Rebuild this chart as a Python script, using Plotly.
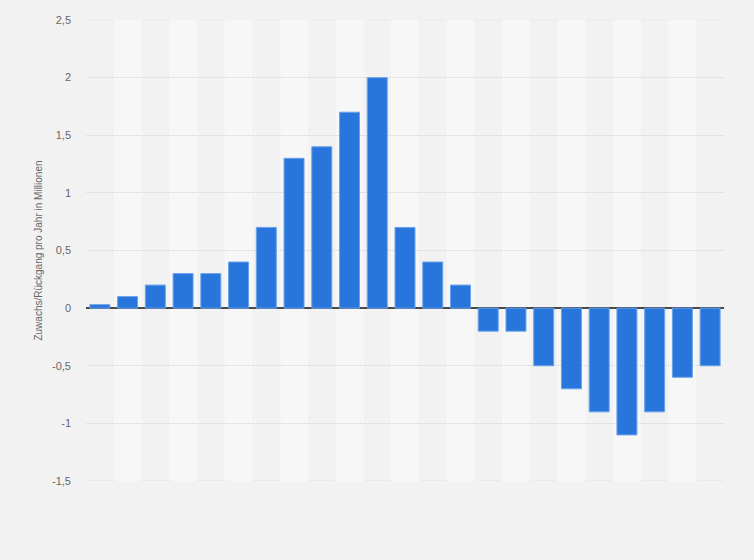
import plotly.graph_objects as go

categories = [str(i) for i in range(1, 24)]
values = [0.03, 0.1, 0.2, 0.3, 0.3, 0.4, 0.7, 1.3, 1.4, 1.7, 2.0, 0.7, 0.4, 0.2,
          -0.2, -0.2, -0.5, -0.7, -0.9, -1.1, -0.9, -0.6, -0.5]
y_ticks = [-1.5, -1, -0.5, 0, 0.5, 1, 1.5, 2, 2.5]
y_title = "Zuwachs/Rückgang pro Jahr in Millionen"

fig = go.Figure()
fig.add_trace(go.Bar(
    x=categories, y=values,
    marker=dict(color="#2875dc", line=dict(color="#6aa2ea", width=1)),
    hoverinfo="y",
))

shapes = []
for i, c in enumerate(categories):
    if i % 2 == 1:
        shapes.append(dict(type="rect", xref="x", yref="y", x0=i - 0.5, x1=i + 0.5,
                           y0=y_ticks[0], y1=y_ticks[-1], fillcolor="#f7f7f7",
                           line=dict(width=0), layer="below"))
for yv in (y_ticks[0], y_ticks[-1]):
    shapes.append(dict(type="line", xref="paper", yref="y", x0=0, x1=1, y0=yv, y1=yv,
                       line=dict(color="#d4d4d4", width=1, dash="1px,1px"), layer="below"))

fig.update_layout(
    width=754, height=560,
    margin=dict(l=86, r=30, t=20, b=79),
    paper_bgcolor="#f2f2f2", plot_bgcolor="#f2f2f2",
    separators=", ",
    bargap=0.28,
    showlegend=False,
    shapes=shapes,
    font=dict(family="Liberation Sans, Arial, sans-serif", color="#666666"),
)
fig.update_xaxes(showticklabels=False, showgrid=False, zeroline=False,
                 range=[-0.5, len(categories) - 0.5])
fig.update_yaxes(range=[y_ticks[0], y_ticks[-1]], tickvals=y_ticks,
                 ticktext=[f"{v:g}".replace(".", ",") for v in y_ticks],
                 showgrid=True, gridcolor="#d4d4d4", griddash="1px,1px", gridwidth=1,
                 zeroline=True, zerolinecolor="#4a4a4a", zerolinewidth=2,
                 ticklabelstandoff=14, tickfont=dict(size=11, color="#666666"),
                 title=dict(text=y_title, font=dict(size=10, color="#666666"), standoff=7))

fig.write_html("out.html", config={"displayModeBar": False},
               post_script="document.body.style.margin='0';document.body.style.background='#f2f2f2';")
